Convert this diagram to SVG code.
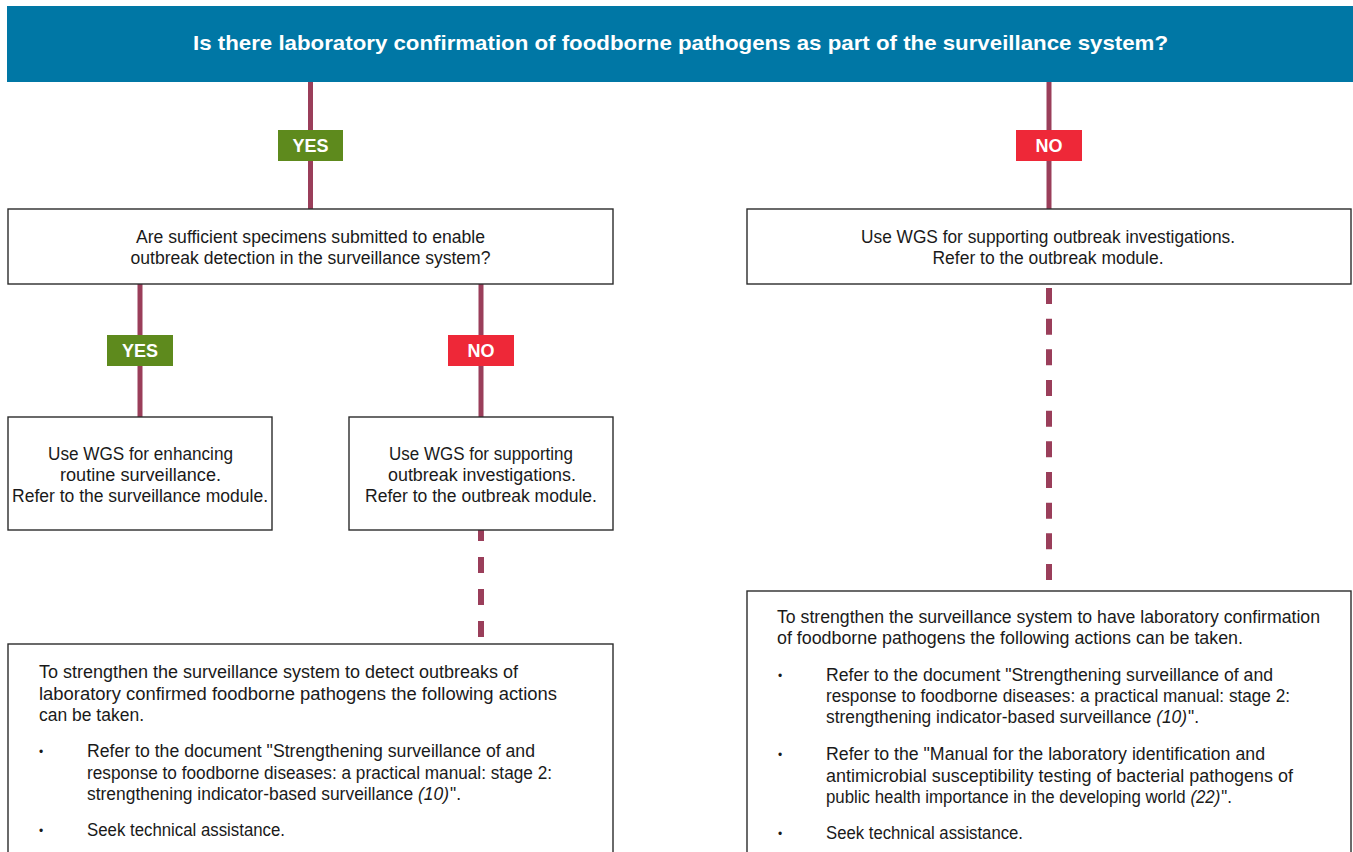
<svg xmlns="http://www.w3.org/2000/svg" width="1353" height="852" viewBox="0 0 1353 852">
  <style>
    .box { fill: #ffffff; stroke: #2b2b2b; stroke-width: 1.4; }
    .link { stroke: #9a3e5a; stroke-width: 5; fill: none; }
    .dash { stroke: #9a3e5a; stroke-width: 6; fill: none; }
    .txt { font-family: "Liberation Sans", Arial, sans-serif; font-size: 17.5px; fill: #1a1a1a; }
    .bullet { font-family: "Liberation Sans", Arial, sans-serif; font-size: 12px; fill: #1a1a1a; }
    .mid { text-anchor: middle; }
    .badge-text { font-family: "Liberation Sans", Arial, sans-serif; font-size: 18px; font-weight: bold; fill: #ffffff; text-anchor: middle; }
    .yes { fill: #5e8a1d; }
    .no { fill: #ee2838; }
    .title { font-family: "Liberation Sans", Arial, sans-serif; font-size: 21px; font-weight: bold; fill: #ffffff; text-anchor: middle; }
  </style>

  <rect width="1353" height="852" fill="#ffffff"/>

  <!-- connectors -->
  <g id="connectors">
    <line class="link" x1="310.5" y1="82" x2="310.5" y2="209"/>
    <line class="link" x1="1049" y1="82" x2="1049" y2="209"/>
    <line class="link" x1="140" y1="284" x2="140" y2="417"/>
    <line class="link" x1="481" y1="284" x2="481" y2="417"/>
    <line class="dash" x1="481" y1="530" x2="481" y2="637" stroke-dasharray="16 16" stroke-dashoffset="5"/>
    <line class="dash" x1="1049" y1="288" x2="1049" y2="580" stroke-dasharray="16 14.67"/>
  </g>

  <!-- main question -->
  <g id="header">
    <rect x="7" y="6" width="1346" height="76" fill="#0077a5"/>
    <text class="title" x="680.5" y="50" textLength="975" lengthAdjust="spacingAndGlyphs">Is there laboratory confirmation of foodborne pathogens as part of the surveillance system?</text>
  </g>

  <!-- branch labels -->
  <g id="label-yes-1">
    <rect class="yes" x="278" y="130" width="65" height="31"/>
    <text class="badge-text" x="310.5" y="152">YES</text>
  </g>
  <g id="label-no-1">
    <rect class="no" x="1016" y="130" width="66" height="31"/>
    <text class="badge-text" x="1049" y="152">NO</text>
  </g>
  <g id="label-yes-2">
    <rect class="yes" x="107" y="335" width="66" height="31"/>
    <text class="badge-text" x="140" y="357">YES</text>
  </g>
  <g id="label-no-2">
    <rect class="no" x="448" y="335" width="66" height="31"/>
    <text class="badge-text" x="481" y="357">NO</text>
  </g>

  <!-- second question -->
  <g id="specimens">
    <rect class="box" x="8" y="209" width="605" height="75"/>
    <text class="txt mid" x="310.5" y="243" textLength="349" lengthAdjust="spacingAndGlyphs">Are sufficient specimens submitted to enable</text>
    <text class="txt mid" x="310.5" y="264" textLength="360" lengthAdjust="spacingAndGlyphs">outbreak detection in the surveillance system?</text>
  </g>

  <g id="outbreak-right">
    <rect class="box" x="747" y="209" width="604" height="75"/>
    <text class="txt mid" x="1048" y="243" textLength="374" lengthAdjust="spacingAndGlyphs">Use WGS for supporting outbreak investigations.</text>
    <text class="txt mid" x="1048" y="264" textLength="231" lengthAdjust="spacingAndGlyphs">Refer to the outbreak module.</text>
  </g>

  <g id="routine">
    <rect class="box" x="8" y="417" width="264" height="113"/>
    <text class="txt mid" x="140.5" y="460" textLength="185" lengthAdjust="spacingAndGlyphs">Use WGS for enhancing</text>
    <text class="txt mid" x="140.5" y="481" textLength="161" lengthAdjust="spacingAndGlyphs">routine surveillance.</text>
    <text class="txt mid" x="140" y="502" textLength="256" lengthAdjust="spacingAndGlyphs">Refer to the surveillance module.</text>
  </g>

  <g id="outbreak-left">
    <rect class="box" x="349" y="417" width="264" height="113"/>
    <text class="txt mid" x="481" y="460" textLength="184" lengthAdjust="spacingAndGlyphs">Use WGS for supporting</text>
    <text class="txt mid" x="482" y="481" textLength="188" lengthAdjust="spacingAndGlyphs">outbreak investigations.</text>
    <text class="txt mid" x="481" y="502" textLength="232" lengthAdjust="spacingAndGlyphs">Refer to the outbreak module.</text>
  </g>

  <!-- action boxes -->
  <g id="actions-detect">
    <rect class="box" x="8" y="644" width="605" height="220"/>
    <text class="txt" x="39" y="678" textLength="479" lengthAdjust="spacingAndGlyphs">To strengthen the surveillance system to detect outbreaks of</text>
    <text class="txt" x="39" y="700" textLength="518" lengthAdjust="spacingAndGlyphs">laboratory confirmed foodborne pathogens the following actions</text>
    <text class="txt" x="39" y="721" textLength="105" lengthAdjust="spacingAndGlyphs">can be taken.</text>
    <text class="bullet" x="39" y="756">•</text>
    <text class="txt" x="87" y="757" textLength="448" lengthAdjust="spacingAndGlyphs">Refer to the document "Strengthening surveillance of and</text>
    <text class="txt" x="87" y="779" textLength="465" lengthAdjust="spacingAndGlyphs">response to foodborne diseases: a practical manual: stage 2:</text>
    <text class="txt" x="87" y="800" textLength="374" lengthAdjust="spacingAndGlyphs">strengthening indicator-based surveillance <tspan font-style="italic">(10)</tspan><tspan dx="1">".</tspan></text>
    <text class="bullet" x="39" y="835">•</text>
    <text class="txt" x="87" y="836" textLength="198" lengthAdjust="spacingAndGlyphs">Seek technical assistance.</text>
  </g>

  <g id="actions-confirm">
    <rect class="box" x="747" y="591" width="604" height="273"/>
    <text class="txt" x="777" y="623" textLength="543" lengthAdjust="spacingAndGlyphs">To strengthen the surveillance system to have laboratory confirmation</text>
    <text class="txt" x="777" y="644" textLength="466" lengthAdjust="spacingAndGlyphs">of foodborne pathogens the following actions can be taken.</text>
    <text class="bullet" x="778" y="680">•</text>
    <text class="txt" x="826" y="681" textLength="447" lengthAdjust="spacingAndGlyphs">Refer to the document "Strengthening surveillance of and</text>
    <text class="txt" x="826" y="702" textLength="464" lengthAdjust="spacingAndGlyphs">response to foodborne diseases: a practical manual: stage 2:</text>
    <text class="txt" x="826" y="723" textLength="373" lengthAdjust="spacingAndGlyphs">strengthening indicator-based surveillance <tspan font-style="italic">(10)</tspan><tspan dx="1">".</tspan></text>
    <text class="bullet" x="778" y="759">•</text>
    <text class="txt" x="826" y="760" textLength="439" lengthAdjust="spacingAndGlyphs">Refer to the "Manual for the laboratory identification and</text>
    <text class="txt" x="826" y="782" textLength="467" lengthAdjust="spacingAndGlyphs">antimicrobial susceptibility testing of bacterial pathogens of</text>
    <text class="txt" x="826" y="803" textLength="406" lengthAdjust="spacingAndGlyphs">public health importance in the developing world <tspan font-style="italic">(22)</tspan><tspan dx="1">".</tspan></text>
    <text class="bullet" x="778" y="838">•</text>
    <text class="txt" x="826" y="839" textLength="197" lengthAdjust="spacingAndGlyphs">Seek technical assistance.</text>
  </g>
</svg>
